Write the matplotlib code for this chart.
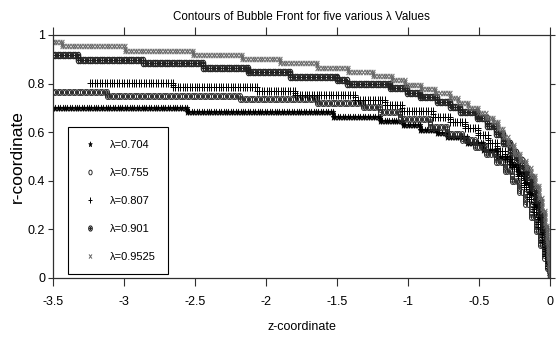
import numpy as np
import matplotlib
matplotlib.use("Agg")
import matplotlib.pyplot as plt
from matplotlib.path import Path

plt.rcParams['font.family'] = ['Liberation Sans', 'DejaVu Sans']

# ---------------- data (step corners of each staircase front) ----------------
labels = ["λ=0.704", "λ=0.755", "λ=0.807", "λ=0.901", "λ=0.9525"]

z_0704 = [-3.500, -2.556, -1.528, -1.197, -1.035, -0.915, -0.796, -0.725, -0.585, -0.472, -0.373,
          -0.282, -0.225, -0.176, -0.141, -0.106, -0.077, -0.056, -0.035, -0.021, -0.007, 0.0]
r_0704 = [0.698, 0.682, 0.664, 0.646, 0.630, 0.609, 0.597, 0.580, 0.556, 0.527, 0.498,
          0.465, 0.432, 0.391, 0.346, 0.296, 0.243, 0.185, 0.128, 0.074, 0.033, 0.0]

z_0755 = [-3.500, -3.120, -2.183, -1.641, -1.317, -1.197, -1.056, -0.845, -0.725, -0.620, -0.528,
          -0.451, -0.380, -0.317, -0.268, -0.218, -0.176, -0.134, -0.099, -0.070, -0.042, -0.021, 0.0]
r_0755 = [0.767, 0.749, 0.735, 0.719, 0.704, 0.683, 0.654, 0.621, 0.593, 0.568, 0.539,
          0.510, 0.477, 0.440, 0.399, 0.354, 0.305, 0.251, 0.193, 0.136, 0.082, 0.041, 0.0]

z_0807 = [-3.239, -2.655, -2.063, -1.796, -1.373, -1.162, -1.042, -0.824, -0.704, -0.599, -0.507,
          -0.437, -0.373, -0.317, -0.268, -0.225, -0.183, -0.148, -0.113, -0.085, -0.056, -0.035, -0.014, 0.0]
r_0807 = [0.802, 0.784, 0.770, 0.753, 0.733, 0.712, 0.687, 0.663, 0.642, 0.617, 0.588,
          0.556, 0.523, 0.490, 0.457, 0.420, 0.374, 0.325, 0.272, 0.210, 0.148, 0.091, 0.041, 0.0]

z_0901 = [-3.500, -3.324, -2.866, -2.444, -2.127, -1.831, -1.500, -1.430, -1.127, -1.007, -0.915,
          -0.796, -0.704, -0.634, -0.514, -0.444, -0.380, -0.331, -0.282, -0.239, -0.197, -0.162,
          -0.127, -0.099, -0.070, -0.049, -0.028, -0.014, -0.004, 0.0]
r_0901 = [0.918, 0.897, 0.883, 0.866, 0.848, 0.829, 0.813, 0.798, 0.782, 0.761, 0.743,
          0.724, 0.704, 0.683, 0.658, 0.626, 0.593, 0.556, 0.519, 0.486, 0.453, 0.416,
          0.370, 0.321, 0.267, 0.206, 0.140, 0.082, 0.033, 0.0]

z_09525 = [-3.500, -3.437, -2.993, -2.514, -2.169, -1.901, -1.641, -1.423, -1.246, -1.113, -1.021,
           -0.908, -0.810, -0.704, -0.648, -0.577, -0.507, -0.451, -0.401, -0.366, -0.331, -0.296,
           -0.254, -0.211, -0.169, -0.134, -0.106, -0.077, -0.056, -0.035, -0.021, -0.011, -0.004, 0.0]
r_09525 = [0.971, 0.953, 0.935, 0.918, 0.900, 0.884, 0.866, 0.849, 0.831, 0.815, 0.796,
           0.778, 0.760, 0.741, 0.720, 0.700, 0.679, 0.658, 0.642, 0.613, 0.580, 0.547,
           0.510, 0.481, 0.453, 0.420, 0.379, 0.329, 0.276, 0.214, 0.148, 0.082, 0.033, 0.0]

series_z = [z_0704, z_0755, z_0807, z_0901, z_09525]
series_r = [r_0704, r_0755, r_0807, r_0901, r_09525]

x_ticks = [-3.5, -3, -2.5, -2, -1.5, -1, -0.5, 0]
x_ticklabels = ["-3.5", "-3", "-2.5", "-2", "-1.5", "-1", "-0.5", "0"]
y_ticks = [0, 0.2, 0.4, 0.6, 0.8, 1]
y_ticklabels = ["0", "0.2", "0.4", "0.6", "0.8", "1"]


def staircase(zk, rk, dz=0.017, dr=0.010):
    """Marker positions walking along the staircase defined by the step corners."""
    zs, rs = [], []
    for i in range(len(zk) - 1):
        z0, z1, r0, r1 = zk[i], zk[i + 1], rk[i], rk[i + 1]
        n = max(int(round((z1 - z0) / dz)), 1)
        for j in range(n):
            zs.append(z0 + (z1 - z0) * j / n)
            rs.append(r0)
        m = max(int(round((r0 - r1) / dr)), 1)
        for j in range(m):
            zs.append(z1)
            rs.append(r0 - (r0 - r1) * j / m)
    zs.append(zk[-1])
    rs.append(rk[-1])
    return np.array(zs), np.array(rs)


def squeeze(p, sx=0.7):
    return Path(p.vertices * np.array([sx, 1.0]), p.codes)


M, L = Path.MOVETO, Path.LINETO
star_m = squeeze(Path.unit_regular_star(5, 0.42))
circ_m = squeeze(Path.unit_circle())
plus_m = squeeze(Path([[-1, 0], [1, 0], [0, -1], [0, 1]], [M, L, M, L]))
x_m = squeeze(Path([[-1, -1], [1, 1], [-1, 1], [1, -1]], [M, L, M, L]))
oplus_m = Path.make_compound_path(circ_m,
                                  squeeze(Path([[-0.6, 0], [0.6, 0], [0, -0.6], [0, 0.6]], [M, L, M, L])))

styles = [
    dict(marker=star_m, ms=5.0, mfc='black', mec='black', mew=0.4),
    dict(marker=circ_m, ms=4.2, mfc='none', mec='#2a2a2a', mew=0.7),
    dict(marker=plus_m, ms=5.5, mfc='none', mec='black', mew=0.7),
    dict(marker=oplus_m, ms=4.6, mfc='none', mec='#202020', mew=0.8),
    dict(marker=x_m, ms=3.8, mfc='none', mec='#666666', mew=0.7),
]

fig = plt.figure(figsize=(5.59, 3.40), dpi=100)
ax = fig.add_axes([0.0948, 0.1824, 0.8891, 0.7147])

handles = []
for zk, rk, st, lab in zip(series_z, series_r, styles, labels):
    zz, rr = staircase(zk, rk)
    h, = ax.plot(zz, rr, linestyle='none', label=lab, **st)
    handles.append(h)

ax.set_xlim(-3.5, 0)
ax.set_ylim(0, 1)
ax.set_xticks(x_ticks)
ax.set_xticklabels(x_ticklabels)
ax.set_yticks(y_ticks)
ax.set_yticklabels(y_ticklabels)

for s in ax.spines.values():
    s.set_linewidth(0.9)
    s.set_color('#303030')

ax.tick_params(axis='x', direction='out', length=5.8, width=0.8, top=True, pad=7,
               labelsize=9, color='#303030')
ax.tick_params(axis='y', direction='out', length=3.6, width=0.8, right=True, pad=2,
               labelsize=9, color='#303030')

ax.set_title("Contours of Bubble Front for five various λ Values", fontsize=8.4, y=1.0, pad=10.5)
ax.set_xlabel("z-coordinate", fontsize=9)
ax.xaxis.set_label_coords(0.5, -0.175)
ax.set_ylabel("r-coordinate", fontsize=12.5)
ax.yaxis.set_label_coords(-0.056, 0.5)

leg = ax.legend(handles=handles, loc='upper left', bbox_to_anchor=(0.030, 0.621),
                fancybox=False, framealpha=1, edgecolor='black', fontsize=8,
                labelspacing=1.63, borderpad=1.12, handlelength=1.82, handletextpad=0.85,
                borderaxespad=0, numpoints=1, markerscale=0.8)
leg.get_frame().set_linewidth(0.8)

fig.savefig("out.png", dpi=100)
